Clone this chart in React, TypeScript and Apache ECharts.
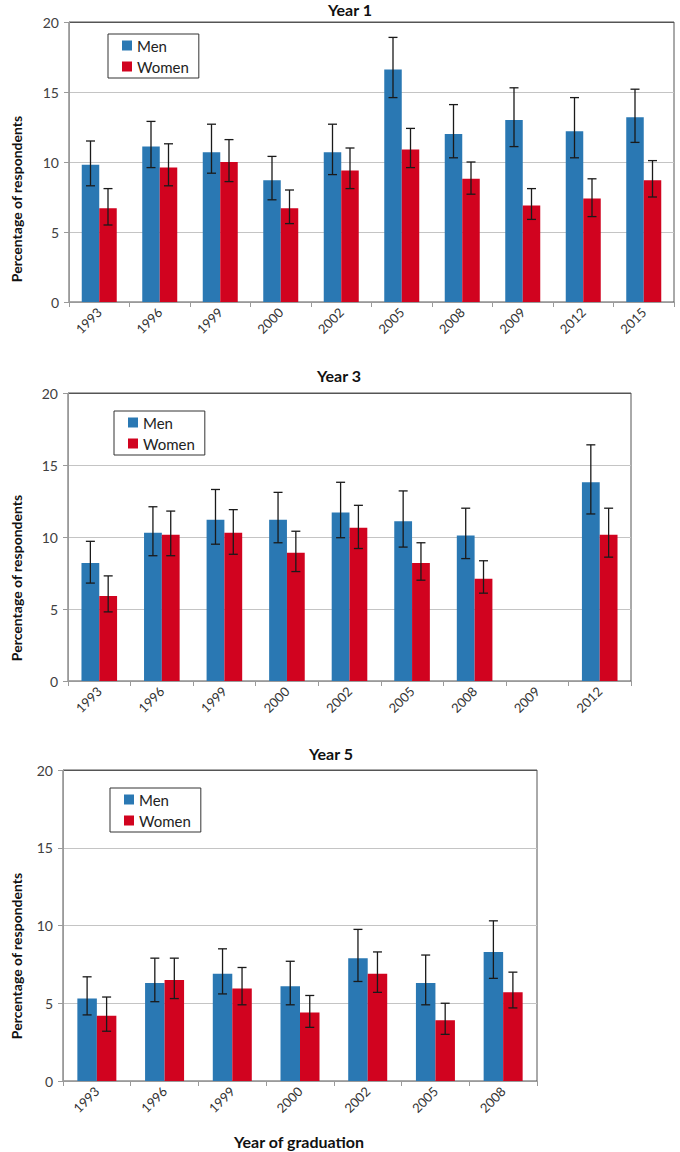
import React, { useEffect, useRef } from "react";
import * as echarts from "echarts";

// ---- Year 1 ----
const years1 = ["1993", "1996", "1999", "2000", "2002", "2005", "2008", "2009", "2012", "2015"];
const men1 = [9.8, 11.1, 10.7, 8.7, 10.7, 16.6, 12.0, 13.0, 12.2, 13.2];
const men1Lo = [8.3, 9.6, 9.2, 7.3, 9.1, 14.6, 10.3, 11.1, 10.3, 11.4];
const men1Hi = [11.5, 12.9, 12.7, 10.4, 12.7, 18.9, 14.1, 15.3, 14.6, 15.2];
const women1 = [6.7, 9.6, 10.0, 6.7, 9.4, 10.9, 8.8, 6.9, 7.4, 8.7];
const women1Lo = [5.5, 8.3, 8.6, 5.6, 8.1, 9.6, 7.7, 5.9, 6.1, 7.5];
const women1Hi = [8.1, 11.3, 11.6, 8.0, 11.0, 12.4, 10.0, 8.1, 8.8, 10.1];

// ---- Year 3 ----
const years3 = ["1993", "1996", "1999", "2000", "2002", "2005", "2008", "2009", "2012"];
const men3 = [8.2, 10.3, 11.2, 11.2, 11.7, 11.1, 10.1, null, 13.8];
const men3Lo = [6.8, 8.7, 9.5, 9.6, 9.95, 9.3, 8.5, null, 11.6];
const men3Hi = [9.7, 12.1, 13.3, 13.1, 13.8, 13.2, 12.0, null, 16.4];
const women3 = [5.9, 10.15, 10.3, 8.9, 10.65, 8.2, 7.1, null, 10.15];
const women3Lo = [4.8, 8.7, 8.8, 7.6, 9.2, 7.0, 6.1, null, 8.6];
const women3Hi = [7.3, 11.8, 11.9, 10.4, 12.2, 9.6, 8.35, null, 12.0];

// ---- Year 5 ----
const years5 = ["1993", "1996", "1999", "2000", "2002", "2005", "2008"];
const men5 = [5.3, 6.3, 6.9, 6.1, 7.9, 6.3, 8.3];
const men5Lo = [4.25, 5.1, 5.6, 4.9, 6.4, 4.9, 6.6];
const men5Hi = [6.7, 7.9, 8.5, 7.7, 9.75, 8.1, 10.3];
const women5 = [4.2, 6.5, 5.95, 4.4, 6.9, 3.9, 5.7];
const women5Lo = [3.2, 5.3, 4.9, 3.45, 5.7, 3.0, 4.7];
const women5Hi = [5.4, 7.9, 7.3, 5.5, 8.3, 5.0, 7.0];

const yTicks = [0, 5, 10, 15, 20];
const seriesNames = ["Men", "Women"];
const titles = ["Year 1", "Year 3", "Year 5"];
const yAxisTitle = "Percentage of respondents";
const xAxisTitle = "Year of graduation";

const MEN_COLOR = "#2A78B3";
const WOMEN_COLOR = "#D1031F";
const FONT = "Lato, 'Open Sans', sans-serif";

const panels = [
  {
    cats: years1, men: men1, menLo: men1Lo, menHi: men1Hi,
    women: women1, womenLo: women1Lo, womenHi: women1Hi,
    grid: { left: 69, top: 22, width: 605, height: 280 },
    bw: 17.5,
    legend: { left: 108, top: 34 },
    title: { x: 350, y: 9 },
    ylab: { x: 16, y: 199 },
  },
  {
    cats: years3, men: men3, menLo: men3Lo, menHi: men3Hi,
    women: women3, womenLo: women3Lo, womenHi: women3Hi,
    grid: { left: 68, top: 393, width: 563, height: 288 },
    bw: 17.8,
    legend: { left: 114, top: 411 },
    title: { x: 339, y: 375 },
    ylab: { x: 16, y: 578 },
  },
  {
    cats: years5, men: men5, menLo: men5Lo, menHi: men5Hi,
    women: women5, womenLo: women5Lo, womenHi: women5Hi,
    grid: { left: 63, top: 770, width: 474, height: 311 },
    bw: 19.5,
    legend: { left: 110, top: 788 },
    title: { x: 331, y: 753 },
    ylab: { x: 16, y: 956 },
  },
];

function errData(lo: (number | null)[], hi: (number | null)[]) {
  const out: number[][] = [];
  lo.forEach((l, i) => {
    const h = hi[i];
    if (l != null && h != null) out.push([i, l, h]);
  });
  return out;
}

function makeErrRender(offset: number) {
  return (params: any, api: any) => {
    const idx = api.value(0);
    const lo = api.value(1);
    const hi = api.value(2);
    const p = api.coord([idx, hi]);
    const q = api.coord([idx, lo]);
    const x = p[0] + offset;
    const cap = 4.5;
    const style = { stroke: "#1a1a1a", lineWidth: 1.3 };
    return {
      type: "group",
      children: [
        { type: "line", shape: { x1: x, y1: p[1], x2: x, y2: q[1] }, style },
        { type: "line", shape: { x1: x - cap, y1: p[1], x2: x + cap, y2: p[1] }, style },
        { type: "line", shape: { x1: x - cap, y1: q[1], x2: x + cap, y2: q[1] }, style },
      ],
    };
  };
}

export default function App() {
  const ref = useRef<HTMLDivElement>(null);

  useEffect(() => {
    document.body.style.margin = "0";
    if (!ref.current) return;
    const chart = echarts.init(ref.current, null, { renderer: "svg" });

    const grids: any[] = [];
    const xAxes: any[] = [];
    const yAxes: any[] = [];
    const legends: any[] = [];
    const series: any[] = [];
    const graphics: any[] = [];

    panels.forEach((pn, k) => {
      grids.push({
        ...pn.grid,
        show: true,
        borderColor: "#555",
        borderWidth: 1,
        backgroundColor: "transparent",
        containLabel: false,
      });
      xAxes.push({
        type: "category",
        gridIndex: k,
        data: pn.cats,
        boundaryGap: true,
        axisLine: { show: true, lineStyle: { color: "#9a9a9a", width: 1 } },
        axisTick: { show: true, length: 5, lineStyle: { color: "#9a9a9a" } },
        axisLabel: {
          rotate: 45,
          fontSize: 13,
          color: "#333",
          fontFamily: FONT,
          margin: 8,
          interval: 0,
        },
        splitLine: { show: false },
      });
      yAxes.push({
        type: "value",
        gridIndex: k,
        min: yTicks[0],
        max: yTicks[yTicks.length - 1],
        interval: 5,
        axisLine: { show: true, lineStyle: { color: "#9a9a9a", width: 1 } },
        axisTick: { show: true, length: 5, lineStyle: { color: "#9a9a9a" } },
        axisLabel: { fontSize: 14, color: "#404040", fontFamily: FONT, margin: 10 },
        splitLine: {
          show: true,
          lineStyle: { color: ["#c4c4c4", "#c4c4c4", "#c4c4c4", "#c4c4c4", "#555"], width: 1 },
        },
      });
      legends.push({
        data: seriesNames,
        left: pn.legend.left,
        top: pn.legend.top,
        orient: "vertical",
        icon: "rect",
        itemWidth: 10,
        itemHeight: 10,
        itemGap: 6,
        padding: [4, 10, 4, 14],
        borderColor: "#333",
        borderWidth: 1,
        backgroundColor: "#fff",
        textStyle: { fontSize: 15, color: "#222", fontFamily: FONT },
        selectedMode: false,
      });
      series.push({
        name: "Men",
        type: "bar",
        xAxisIndex: k,
        yAxisIndex: k,
        data: pn.men,
        barWidth: pn.bw,
        barGap: "0%",
        itemStyle: { color: MEN_COLOR },
      });
      series.push({
        name: "Women",
        type: "bar",
        xAxisIndex: k,
        yAxisIndex: k,
        data: pn.women,
        barWidth: pn.bw,
        barGap: "0%",
        itemStyle: { color: WOMEN_COLOR },
      });
      series.push({
        name: "errMen" + k,
        type: "custom",
        xAxisIndex: k,
        yAxisIndex: k,
        data: errData(pn.menLo, pn.menHi),
        encode: { x: 0, y: [1, 2] },
        renderItem: makeErrRender(-pn.bw / 2),
        z: 5,
      });
      series.push({
        name: "errWomen" + k,
        type: "custom",
        xAxisIndex: k,
        yAxisIndex: k,
        data: errData(pn.womenLo, pn.womenHi),
        encode: { x: 0, y: [1, 2] },
        renderItem: makeErrRender(pn.bw / 2),
        z: 5,
      });
      graphics.push({
        type: "text",
        x: pn.title.x,
        y: pn.title.y,
        style: {
          text: titles[k],
          fontSize: 16,
          fontWeight: "bold",
          fontFamily: FONT,
          fill: "#111",
          textAlign: "center",
          textVerticalAlign: "middle",
        },
      });
      graphics.push({
        type: "text",
        x: pn.ylab.x,
        y: pn.ylab.y,
        rotation: Math.PI / 2,
        style: {
          text: yAxisTitle,
          fontSize: 14,
          fontWeight: "bold",
          fontFamily: FONT,
          fill: "#111",
          textAlign: "center",
          textVerticalAlign: "middle",
        },
      });
    });

    graphics.push({
      type: "text",
      x: 299,
      y: 1141,
      style: {
        text: xAxisTitle,
        fontSize: 16,
        fontWeight: "bold",
        fontFamily: FONT,
        fill: "#111",
        textAlign: "center",
        textVerticalAlign: "middle",
      },
    });

    chart.setOption({
      animation: false,
      backgroundColor: "#fff",
      grid: grids,
      xAxis: xAxes,
      yAxis: yAxes,
      legend: legends,
      series,
      graphic: graphics,
    });

    return () => chart.dispose();
  }, []);

  return <div ref={ref} style={{ width: 680, height: 1152 }} />;
}
